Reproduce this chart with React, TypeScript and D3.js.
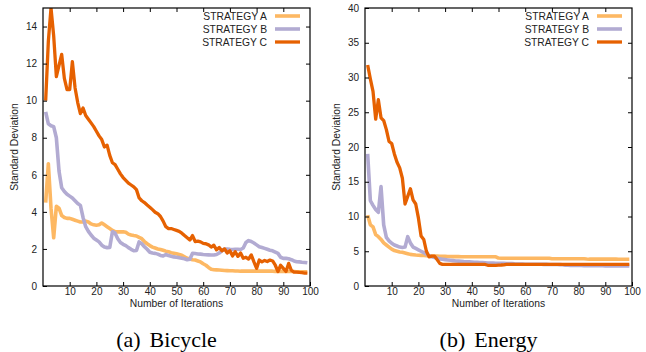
import { useEffect, useRef } from "react";
import * as d3 from "d3";

// iterations 1..99
const iterations = d3.range(1, 100);

const strategyNames = ["STRATEGY A", "STRATEGY B", "STRATEGY C"];
const strategyColors = ["#fdb863", "#b2abd2", "#e66101"];

const xTicks = [10, 20, 30, 40, 50, 60, 70, 80, 90, 100];
const bicycleYTicks = [0, 2, 4, 6, 8, 10, 12, 14];
const energyYTicks = [0, 5, 10, 15, 20, 25, 30, 35, 40];

const bicycleA = [
    4.5, 6.6, 4.2, 2.6, 4.3, 4.2, 3.8, 3.7, 3.65, 3.65,
    3.6, 3.55, 3.5, 3.45, 3.45, 3.5, 3.45, 3.35, 3.3, 3.28,
    3.3, 3.4, 3.3, 3.2, 3.1, 3.0, 2.93, 2.92, 2.92, 2.93,
    2.9, 2.8, 2.75, 2.72, 2.7, 2.62, 2.55, 2.4, 2.28, 2.18,
    2.1, 2.05, 2.0, 1.97, 1.93, 1.88, 1.85, 1.8, 1.77, 1.74,
    1.7, 1.66, 1.58, 1.5, 1.46, 1.42, 1.4, 1.35, 1.3, 1.2,
    1.12, 1.0, 0.9, 0.88, 0.87, 0.86, 0.85, 0.84, 0.83, 0.82,
    0.82, 0.81, 0.81, 0.8, 0.8, 0.8, 0.8, 0.8, 0.8, 0.8,
    0.8, 0.8, 0.8, 0.8, 0.8, 0.8, 0.79, 0.79, 0.79, 0.78,
    0.78, 0.78, 0.78, 0.78, 0.77, 0.77, 0.77, 0.77, 0.77,
];
const bicycleB = [
    9.4, 8.75, 8.65, 8.6, 8.0, 6.2, 5.3, 5.1, 4.95, 4.85,
    4.75, 4.6, 4.45, 4.35, 3.7, 3.2, 2.95, 2.75, 2.58, 2.48,
    2.38, 2.2, 2.1, 2.07, 2.08, 2.93, 2.85, 2.55, 2.35, 2.25,
    2.18, 2.07, 1.98, 1.9, 1.92, 2.38, 2.28, 2.12, 1.98, 1.82,
    1.78, 1.76, 1.72, 1.65, 1.62, 1.7, 1.64, 1.6, 1.57, 1.55,
    1.53, 1.5, 1.47, 1.42, 1.45, 1.76, 1.75, 1.73, 1.72, 1.7,
    1.69, 1.68, 1.67, 1.67, 1.7, 1.78, 1.9, 2.0, 2.0, 1.98,
    1.97, 1.98, 1.98, 1.97, 2.05, 2.35, 2.45, 2.4, 2.32, 2.22,
    2.12, 2.08, 2.03, 1.98, 1.93, 1.9, 1.83, 1.76, 1.55, 1.49,
    1.49, 1.47, 1.42, 1.35, 1.31, 1.3, 1.28, 1.27, 1.25,
];
const bicycleC = [
    10.0, 13.2, 15.0, 13.5, 11.3, 11.9, 12.5, 11.2, 10.6, 10.6,
    12.1, 10.7, 9.9, 9.3, 9.6, 9.2, 9.0, 8.8, 8.6, 8.35,
    8.1, 7.9, 7.5, 7.6, 7.05, 6.65, 6.55, 6.3, 6.05, 5.85,
    5.7, 5.55, 5.45, 5.35, 5.2, 4.75, 4.6, 4.5, 4.37, 4.25,
    4.12, 3.98, 3.9, 3.75, 3.5, 3.2, 3.1, 3.1, 3.05, 3.0,
    2.95, 2.85, 2.72, 2.6, 2.48, 2.72, 2.4, 2.42, 2.38, 2.3,
    2.28, 2.22, 2.1, 2.2, 1.95, 2.08, 1.9, 2.0, 1.78, 1.9,
    1.62, 1.85, 1.6, 1.78, 1.5, 1.55, 1.45, 1.68, 1.3, 0.95,
    1.4, 1.3, 1.38, 1.32, 1.4, 1.35, 1.12, 0.78, 1.12, 0.95,
    0.78, 1.22, 0.85, 0.75, 0.75, 0.73, 0.72, 0.7, 0.7,
];

const energyA = [
    10.2, 8.8, 8.5, 7.4, 7.1, 6.7, 6.2, 5.9, 5.6, 5.3,
    5.1, 5.0, 4.9, 4.85, 4.75, 4.65, 4.55, 4.5, 4.45, 4.42,
    4.4, 4.38, 4.36, 4.34, 4.32, 4.3, 4.3, 4.28, 4.27, 4.26,
    4.25, 4.24, 4.23, 4.22, 4.22, 4.21, 4.2, 4.2, 4.2, 4.2,
    4.2, 4.2, 4.2, 4.2, 4.2, 4.2, 4.2, 4.2, 4.2, 4.02,
    4.0, 4.0, 4.0, 4.0, 4.0, 4.0, 4.0, 4.0, 4.0, 4.0,
    4.0, 4.0, 4.0, 4.0, 4.0, 4.0, 4.0, 4.0, 4.0, 3.92,
    3.92, 3.92, 3.92, 3.92, 3.92, 3.92, 3.92, 3.92, 3.92, 3.92,
    3.92, 3.92, 3.88, 3.86, 3.86, 3.86, 3.86, 3.86, 3.86, 3.86,
    3.86, 3.86, 3.86, 3.86, 3.85, 3.85, 3.85, 3.85, 3.85,
];
const energyB = [
    19.0, 12.3, 11.6, 11.0, 10.6, 14.3, 8.8, 7.0, 6.5, 6.15,
    5.9, 5.75, 5.6, 5.55, 5.6, 7.1, 6.2, 5.6, 5.4, 5.2,
    5.0, 4.8, 4.6, 4.35, 4.2, 4.1, 4.0, 3.9, 3.85, 3.8,
    3.75, 3.7, 3.65, 3.6, 3.58, 3.55, 3.52, 3.5, 3.48, 3.45,
    3.42, 3.4, 3.38, 3.36, 3.34, 3.32, 3.3, 3.3, 3.28, 3.27,
    3.26, 3.25, 3.24, 3.23, 3.22, 3.18, 3.16, 3.15, 3.15, 3.14,
    3.14, 3.13, 3.13, 3.12, 3.12, 3.12, 3.11, 3.11, 3.1, 3.1,
    3.1, 3.1, 3.08, 3.05, 3.0, 2.98, 2.96, 2.95, 2.95, 2.94,
    2.94, 2.93, 2.93, 2.93, 2.92, 2.92, 2.92, 2.91, 2.91, 2.9,
    2.9, 2.9, 2.9, 2.9, 2.9, 2.9, 2.9, 2.9, 2.9,
];
const energyC = [
    31.8, 29.8, 28.0, 24.0, 26.8, 24.2, 23.8, 22.5, 20.8, 20.5,
    19.0, 17.8, 17.0, 15.5, 11.8, 12.9, 14.0, 12.4, 11.8, 9.8,
    7.2, 6.7, 5.0, 4.2, 4.3, 4.3, 3.8, 3.25, 3.12, 3.1,
    3.1, 3.1, 3.1, 3.1, 3.1, 3.1, 3.1, 3.1, 3.1, 3.1,
    3.1, 3.1, 3.1, 3.1, 3.1, 2.98, 2.96, 2.96, 2.98, 3.0,
    3.02, 3.05, 3.1, 3.12, 3.12, 3.12, 3.12, 3.12, 3.12, 3.12,
    3.12, 3.12, 3.12, 3.12, 3.12, 3.12, 3.12, 3.12, 3.12, 3.12,
    3.12, 3.12, 3.12, 3.12, 3.12, 3.12, 3.12, 3.12, 3.12, 3.12,
    3.1, 3.1, 3.1, 3.1, 3.1, 3.1, 3.1, 3.1, 3.1, 3.1,
    3.1, 3.1, 3.1, 3.1, 3.1, 3.1, 3.1, 3.1, 3.1,
];

const sans = "'Liberation Sans', Arial, Helvetica, sans-serif";
const serif = "'Liberation Serif', 'Times New Roman', serif";

interface PanelProps {
    id: string;
    left: number;
    series: number[][];
    yMax: number;
    yTicks: number[];
    tag: string;
    caption: string;
}

function Panel({ id, left, series, yMax, yTicks, tag, caption }: PanelProps) {
    const ref = useRef<SVGGElement>(null);

    useEffect(() => {
        if (!ref.current) return;
        const g = d3.select(ref.current);
        g.selectAll("*").remove();

        const top = 8, bottom = 286, width = 267;
        const x = d3.scaleLinear().domain([0, 100]).range([left, left + width]);
        const y = d3.scaleLinear().domain([0, yMax]).range([bottom, top]);

        g.append("clipPath").attr("id", "clip-" + id)
            .append("rect")
            .attr("x", left).attr("y", top)
            .attr("width", width).attr("height", bottom - top);

        // lines
        const line = d3.line<number>()
            .x((_, i) => x(iterations[i]))
            .y(d => y(d));
        const lines = g.append("g").attr("clip-path", `url(#clip-${id})`);
        series.forEach((s, k) => {
            lines.append("path")
                .attr("d", line(s))
                .attr("fill", "none")
                .attr("stroke", strategyColors[k])
                .attr("stroke-width", k === 2 ? 3.3 : 3.6)
                .attr("stroke-linejoin", "round");
        });

        // axes, gnuplot style: ticks inward on all sides
        const bottomAxis = g.append("g")
            .attr("transform", `translate(0,${bottom})`)
            .call(d3.axisBottom(x).tickValues(xTicks).tickSize(-4).tickPadding(1.5));
        const leftAxis = g.append("g")
            .attr("transform", `translate(${left},0)`)
            .call(d3.axisLeft(y).tickValues(yTicks).tickSize(-4).tickPadding(6));
        g.append("g")
            .attr("transform", `translate(0,${top})`)
            .call(d3.axisTop(x).tickValues(xTicks.slice(0, -1)).tickSize(-4).tickFormat(() => ""));
        g.append("g")
            .attr("transform", `translate(${left + width},0)`)
            .call(d3.axisRight(y).tickValues(yTicks.filter(t => t > 0 && t < yMax)).tickSize(-4).tickFormat(() => ""));
        g.selectAll(".domain").remove();
        g.selectAll(".tick line").attr("stroke", "#000");
        [bottomAxis, leftAxis].forEach(a => a.selectAll("text")
            .attr("font-family", sans).attr("font-size", 10).attr("fill", "#222"));

        g.append("rect")
            .attr("x", left).attr("y", top)
            .attr("width", width).attr("height", bottom - top)
            .attr("fill", "none").attr("stroke", "#000").attr("stroke-width", 1.2);

        // axis titles
        g.append("text")
            .attr("x", left + width / 2).attr("y", 307)
            .attr("text-anchor", "middle")
            .attr("font-family", sans).attr("font-size", 10.3).attr("fill", "#222")
            .text("Number of Iterations");
        g.append("text")
            .attr("transform", `translate(${left - 25},${(top + bottom) / 2}) rotate(-90)`)
            .attr("text-anchor", "middle")
            .attr("font-family", sans).attr("font-size", 10.3).attr("fill", "#222")
            .text("Standard Deviation");

        // legend
        const legend = g.append("g");
        strategyNames.forEach((name, k) => {
            const ly = 16 + k * 13;
            legend.append("text")
                .attr("x", left + width - 43).attr("y", ly + 3.6)
                .attr("text-anchor", "end")
                .attr("font-family", sans).attr("font-size", 10.3).attr("fill", "#222")
                .text(name);
            legend.append("line")
                .attr("x1", left + width - 35).attr("x2", left + width - 10)
                .attr("y1", ly).attr("y2", ly)
                .attr("stroke", strategyColors[k])
                .attr("stroke-width", k === 2 ? 3.3 : 3.6);
        });

        // sub-caption
        const cap = g.append("text")
            .attr("x", left + width / 2 - 10).attr("y", 347)
            .attr("text-anchor", "middle")
            .attr("font-family", serif).attr("font-size", 22).attr("fill", "#000");
        cap.append("tspan").text(tag);
        cap.append("tspan").attr("dx", 9).text(caption);
    }, [id, left, series, yMax, yTicks, tag, caption]);

    return <g ref={ref} />;
}

export default function App() {
    return (
        <svg width={646} height={352}
            style={{ position: "absolute", left: 0, top: 0, background: "#fff" }}>
            <Panel id="bicycle" left={43} series={[bicycleA, bicycleB, bicycleC]}
                yMax={15} yTicks={bicycleYTicks} tag="(a)" caption="Bicycle" />
            <Panel id="energy" left={365} series={[energyA, energyB, energyC]}
                yMax={40} yTicks={energyYTicks} tag="(b)" caption="Energy" />
        </svg>
    );
}
